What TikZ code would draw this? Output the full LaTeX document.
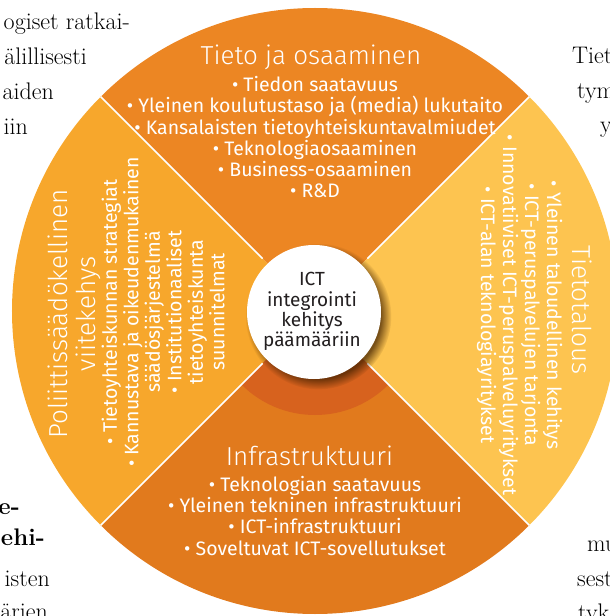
\documentclass[tikz,border=0pt]{standalone}
\usepackage{fontspec}
\newfontfamily\firareg{Fira Sans}
\newfontfamily\firalight{Fira Sans Light}
\usetikzlibrary{shadows}
\definecolor{ctop}{HTML}{EC8623}
\definecolor{cleft}{HTML}{F7A72C}
\definecolor{cright}{HTML}{FDC450}
\definecolor{cbot}{HTML}{E17A1D}
\definecolor{cglow}{HTML}{D7621E}
\definecolor{ctext}{HTML}{231F20}
\definecolor{cdiskedge}{HTML}{EAEAEA}
\pgfdeclareradialshading{glowshade}{\pgfpoint{0bp}{0bp}}{color(0bp)=(cglow); color(32bp)=(cglow); color(50bp)=(cbot)}
\pgfdeclareradialshading{diskshade}{\pgfpoint{0bp}{0bp}}{color(0bp)=(white); color(38bp)=(white); color(50bp)=(cdiskedge)}
\begin{document}
\begin{tikzpicture}[x=1pt,y=1pt,
  titletext/.style={font=\firalight\fontsize{26}{30}\selectfont, text=white, inner sep=0pt, anchor=base},
  itemtext/.style={font=\firareg\fontsize{19.5}{21.5}\selectfont, text=white, inner sep=0pt, anchor=base},
  hubtext/.style={font=\firareg\fontsize{19}{20.3}\selectfont, text=ctext, inner sep=0pt, anchor=base},
  fragtext/.style={font=\fontsize{24}{35}\selectfont, text=black, inner sep=0pt},
  fragbold/.style={fragtext, font=\fontsize{24}{35}\selectfont\bfseries},
  sepline/.style={white, line width=1.6pt}
]
\useasboundingbox (-315,-305) rectangle (295,311);
\clip (-315,-305) rectangle (295,311);
\def\R{303}
% sectors
\fill[ctop] (0,0) -- (45:\R) arc[start angle=45,end angle=135,radius=\R] -- cycle;
\fill[cleft] (0,0) -- (135:\R) arc[start angle=135,end angle=225,radius=\R] -- cycle;
\fill[cbot] (0,0) -- (225:\R) arc[start angle=225,end angle=315,radius=\R] -- cycle;
\fill[cright] (0,0) -- (-45:\R) arc[start angle=-45,end angle=45,radius=\R] -- cycle;
% glow below the hub
\begin{scope}
  \clip (0,0) -- (225:160) -- (315:160) -- cycle;
  \shade[shading=glowshade] (0,0) circle (104);
\end{scope}
% separators
\foreach \a/\n in {45/ne,135/nw,225/sw,315/se} {
  \coordinate (in-\n) at (\a:74);
  \coordinate (out-\n) at (\a:\R);
  \draw[sepline] (in-\n) -- (out-\n);
}
% hub
\node[circle, minimum size=134pt, inner sep=0pt, shade, shading=diskshade,
      circular drop shadow={shadow scale=1.09, shadow xshift=4pt, shadow yshift=-4pt, opacity=0.7, fill=black!75!orange}] (hub) at (-1,-1) {};
\node[hubtext] (hub1) at (-3,26) {ICT};
\node[hubtext] (hub2) at (-3,5) {integrointi};
\node[hubtext] (hub3) at (-3,-15) {kehitys};
\node[hubtext] (hub4) at (-3,-35) {päämääriin};
% top sector
\node[titletext] (toptitle) at (-4,246) {Tieto ja osaaminen};
\foreach \t/\yy [count=\i] in {{• Tiedon saatavuus}/219, {• Yleinen koulutustaso ja (media) lukutaito}/198, {• Kansalaisten tietoyhteiskuntavalmiudet}/176, {• Teknologiaosaaminen}/155, {• Business-osaaminen}/134, {• R\&D}/113}
  \node[itemtext] (top\i) at (0,\yy) {\t};
% bottom sector
\node[titletext] (bottitle) at (-5.5,-154) {Infrastruktuuri};
\foreach \t/\yy [count=\i] in {{• Teknologian saatavuus}/-180, {• Yleinen tekninen infrastruktuuri}/-201.3, {• ICT-infrastruktuuri}/-222.6, {• Soveltuvat ICT-sovellutukset}/-244}
  \node[itemtext] (bot\i) at (0,\yy) {\t};
% left sector
\node[titletext, rotate=90] (lefttitle1) at (-247,-3) {Poliittissäädökellinen};
\node[titletext, rotate=90] (lefttitle2) at (-219,-3) {viitekehys};
\foreach \t/\xx [count=\i] in {{• Tietoyhteiskunnan strategiat}/-198, {• Kannustava ja oikeudenmukainen}/-176.5, {säädösjärjestelmä}/-155, {• Institutionaaliset}/-133.5, {tietoyhteiskunta}/-112, {suunnitelmat}/-90.5}
  \node[itemtext, rotate=90] (left\i) at (\xx,-1) {\t};
% right sector
\node[titletext, rotate=-90] (righttitle) at (257,1) {Tietotalous};
\foreach \t/\xx [count=\i] in {{• Yleinen taloudellinen kehitys}/232, {• ICT-peruspalvelujen tarjonta}/210, {• Innovatiiviset ICT-peruspalveluyritykset}/188, {• ICT-alan teknologiayritykset}/166}
  \node[itemtext, rotate=-90] (right\i) at (\xx,-4) {\t};
% surrounding page text fragments
\node[fragtext, anchor=base east] (fl1) at (-185,281) {ogiset ratkai-};
\node[fragtext, anchor=base east] (fl2) at (-228,246) {älillisesti};
\node[fragtext, anchor=base east] (fl3) at (-261,211) {aiden};
\node[fragtext, anchor=base east] (fl4) at (-287,176) {iin};
\node[fragbold, anchor=base east] (fl5) at (-295,-203) {e-};
\node[fragbold, anchor=base east] (fl6) at (-270,-234) {ehi-};
\node[fragtext, anchor=base east] (fl7) at (-265,-275) {isten};
\node[fragtext, anchor=base east] (fl8) at (-267,-308) {ärien};
\node[fragtext, anchor=base west] (fr1) at (257,247) {Tiet};
\node[fragtext, anchor=base west] (fr2) at (262,212) {tym};
\node[fragtext, anchor=base west] (fr3) at (285,178) {y};
\node[fragtext, anchor=base west] (fr4) at (272,-240) {mu};
\node[fragtext, anchor=base west] (fr5) at (262,-275) {sest};
\node[fragtext, anchor=base west] (fr6) at (263,-309) {tyk};
\end{tikzpicture}
\end{document}
